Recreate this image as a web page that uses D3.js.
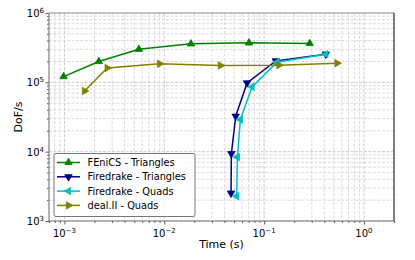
<!DOCTYPE html>
<html>
<head>
<meta charset="utf-8">
<script src="https://cdn.jsdelivr.net/npm/d3@7"></script>
<style>
  body { margin: 0; background: #fff; }
  svg text { font-family: 'DejaVu Sans', 'Verdana', sans-serif; fill: #000; }
</style>
</head>
<body>
<div id="chart"></div>
<script>
// series names
const seriesNames = ['FEniCS - Triangles', 'Firedrake - Triangles', 'Firedrake - Quads', 'deal.II - Quads'];

// time (s) / DoF/s
const fenicsTime = [0.00098, 0.00221, 0.00556, 0.0185, 0.0706, 0.286];
const fenicsDofs = [1.21e5, 2.0e5, 3.0e5, 3.59e5, 3.71e5, 3.64e5];

const fdTriTime = [0.415, 0.131, 0.0675, 0.0519, 0.047, 0.0466];
const fdTriDofs = [2.55e5, 2.04e5, 9.8e4, 3.24e4, 9.35e3, 2.52e3];

const fdQuadTime = [0.415, 0.1346, 0.0757, 0.0578, 0.054, 0.0531];
const fdQuadDofs = [2.55e5, 1.95e5, 8.6e4, 2.9e4, 8.36e3, 2.28e3];

const dealTime = [0.00159, 0.00268, 0.00897, 0.0365, 0.141, 0.538];
const dealDofs = [7.51e4, 1.61e5, 1.85e5, 1.75e5, 1.77e5, 1.89e5];

const xTicks = [-3, -2, -1, 0];
const yTicks = [3, 4, 5, 6];

const series = [
  { name: seriesNames[0], t: fenicsTime, v: fenicsDofs, color: 'green', rot: 0 },
  { name: seriesNames[1], t: fdTriTime, v: fdTriDofs, color: 'navy', rot: 180 },
  { name: seriesNames[2], t: fdQuadTime, v: fdQuadDofs, color: '#00bfbf', rot: 270 },
  { name: seriesNames[3], t: dealTime, v: dealDofs, color: 'olive', rot: 90 }
];

const W = 415, H = 260;
const margin = { top: 13, right: 21, bottom: 39, left: 49 };
const width = W - margin.left - margin.right;
const height = H - margin.top - margin.bottom;
const FONT = "'DejaVu Sans', Verdana, sans-serif";

const svg = d3.select('#chart').append('svg')
  .attr('width', W).attr('height', H)
  .attr('font-family', FONT);
const g = svg.append('g')
  .attr('transform', `translate(${margin.left},${margin.top})`);

const x = d3.scaleLog().domain([7e-4, 2]).range([0, width]);
const y = d3.scaleLog().domain([1e3, 1e6]).range([height, 0]);

const isMajor = d => Math.abs(Math.log10(d) - Math.round(Math.log10(d))) < 1e-6;

// minor + major tick values
const minor = (lo, hi) => {
  const out = [];
  for (let e = lo; e <= hi; e++) for (let m = 1; m < 10; m++) out.push(m * Math.pow(10, e));
  return out;
};
const xAll = minor(-4, 0).filter(d => d >= 7e-4 && d <= 2);
const yAll = minor(3, 5).concat([1e6]);

// grid
g.append('g').selectAll('line').data(xAll).enter().append('line')
  .attr('x1', d => x(d)).attr('x2', d => x(d))
  .attr('y1', 0).attr('y2', height)
  .attr('stroke', d => isMajor(d) ? '#c4c4c4' : '#d6d6d6')
  .attr('stroke-width', 0.9)
  .attr('stroke-dasharray', '3,1.5');
g.append('g').selectAll('line').data(yAll).enter().append('line')
  .attr('y1', d => y(d)).attr('y2', d => y(d))
  .attr('x1', 0).attr('x2', width)
  .attr('stroke', d => isMajor(d) ? '#c4c4c4' : '#d6d6d6')
  .attr('stroke-width', 0.9)
  .attr('stroke-dasharray', '3,1.5');

// axes
const xAxis = g.append('g').attr('transform', `translate(0,${height})`)
  .call(d3.axisBottom(x).tickValues(xAll).tickSize(2).tickFormat(''));
xAxis.selectAll('.tick line').attr('y2', d => isMajor(d) ? 3.5 : 2);
const yAxis = g.append('g')
  .call(d3.axisLeft(y).tickValues(yAll).tickSize(2).tickFormat(''));
yAxis.selectAll('.tick line').attr('x2', d => isMajor(d) ? -3.5 : -2);
[xAxis, yAxis].forEach(a => {
  a.attr('font-family', FONT);
  a.select('.domain').remove();
  a.selectAll('.tick line').attr('stroke', '#333').attr('stroke-width', 0.8);
});

// tick labels with superscripts
xTicks.forEach(e => {
  const t = g.append('text')
    .attr('x', x(Math.pow(10, e))).attr('y', height + 16)
    .attr('text-anchor', 'middle').attr('font-size', 10);
  t.append('tspan').text('10');
  t.append('tspan').attr('dy', -4).attr('font-size', 7).text(e === 0 ? '0' : '\u2212' + Math.abs(e));
});
yTicks.forEach(e => {
  const t = g.append('text')
    .attr('x', -5).attr('y', y(Math.pow(10, e)) + 4)
    .attr('text-anchor', 'end').attr('font-size', 10);
  t.append('tspan').text('10');
  t.append('tspan').attr('dy', -4).attr('font-size', 7).text(e);
});

// spines
g.append('line').attr('x1', 0).attr('x2', width).attr('y1', 0).attr('y2', 0).attr('stroke', '#999').attr('stroke-width', 1.2);
g.append('line').attr('x1', 0).attr('x2', 0).attr('y1', 0).attr('y2', height).attr('stroke', '#888').attr('stroke-width', 1.2);
g.append('line').attr('x1', 0).attr('x2', width).attr('y1', height).attr('y2', height).attr('stroke', '#777').attr('stroke-width', 1.2);
g.append('line').attr('x1', width).attr('x2', width).attr('y1', 0).attr('y2', height).attr('stroke', '#333').attr('stroke-width', 1.2);

// axis labels
svg.append('text').attr('x', margin.left + width / 2).attr('y', 248)
  .attr('text-anchor', 'middle').attr('font-size', 11).text('Time (s)');
svg.append('text').attr('transform', `translate(22,${margin.top + height / 2}) rotate(-90)`)
  .attr('text-anchor', 'middle').attr('font-size', 11).text('DoF/s');

// lines + markers
const line = d3.line().x(d => x(d[0])).y(d => y(d[1]));
const tri = d3.symbol().type(d3.symbolTriangle).size(24);

series.forEach(s => {
  const pts = s.t.map((t, i) => [t, s.v[i]]);
  g.append('path').datum(pts)
    .attr('fill', 'none').attr('stroke', s.color).attr('stroke-width', 1.5)
    .attr('d', line);
  g.selectAll(null).data(pts).enter().append('path')
    .attr('d', tri)
    .attr('transform', d => `translate(${x(d[0])},${y(d[1])}) rotate(${s.rot})`)
    .attr('fill', s.color).attr('stroke', s.color).attr('stroke-width', 0.8);
});

// legend
const lg = g.append('g').attr('transform', 'translate(5,140.5)');
lg.append('rect').attr('width', 141).attr('height', 63).attr('rx', 2)
  .attr('fill', 'rgba(255,255,255,0.85)').attr('stroke', '#555').attr('stroke-width', 0.8);
series.forEach((s, i) => {
  const yy = 9 + i * 14.3;
  lg.append('line').attr('x1', 3).attr('x2', 26).attr('y1', yy).attr('y2', yy)
    .attr('stroke', s.color).attr('stroke-width', 1.5);
  lg.append('path').attr('d', tri)
    .attr('transform', `translate(14.5,${yy}) rotate(${s.rot})`)
    .attr('fill', s.color).attr('stroke', s.color).attr('stroke-width', 0.8);
  lg.append('text').attr('x', 33.5).attr('y', yy + 3.5)
    .attr('font-size', 9.8).text(s.name);
});
</script>
</body>
</html>
